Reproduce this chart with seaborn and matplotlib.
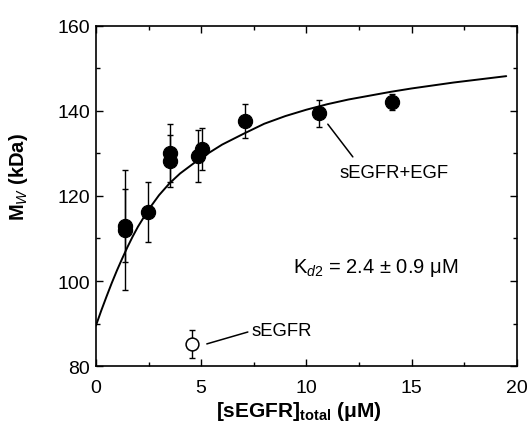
import numpy as np
import pandas as pd
import matplotlib
matplotlib.use("Agg")
import matplotlib.pyplot as plt
from matplotlib.ticker import MultipleLocator
import seaborn as sns

# Data
egf_conc = [1.38, 1.40, 2.47, 3.52, 3.52, 4.85, 5.04, 7.08, 10.6, 14.06]
egf_mw = [112.0, 113.0, 116.2, 130.1, 128.2, 129.4, 131.1, 137.6, 139.5, 142.1]
egf_err = [14.0, 8.6, 7.1, 6.8, 6.2, 6.2, 5.0, 4.0, 3.2, 1.8]

free_conc = [4.56]
free_mw = [85.2]
free_err = [3.2]

fit_conc = [0, 0.25, 0.5, 0.75, 1.0, 1.25, 1.5, 1.75, 2.0, 2.5, 3.0, 3.5, 4.0, 5.0,
            6.0, 7.0, 8.0, 9.0, 10.0, 11.0, 12.0, 13.0, 14.0, 15.0, 16.0, 17.0,
            18.0, 19.0, 19.5]
fit_mw = [89.5, 93.0, 96.3, 99.5, 102.5, 105.3, 108.0, 110.5, 112.8, 116.8, 120.2,
          123.0, 125.3, 129.0, 132.1, 134.6, 137.0, 138.8, 140.3, 141.6, 142.7,
          143.6, 144.5, 145.3, 146.0, 146.7, 147.3, 147.9, 148.2]

egf_df = pd.DataFrame({"conc": egf_conc, "mw": egf_mw})
free_df = pd.DataFrame({"conc": free_conc, "mw": free_mw})
fit_df = pd.DataFrame({"conc": fit_conc, "mw": fit_mw})

sns.set_style("ticks")
plt.rcParams["font.family"] = ["Liberation Sans", "DejaVu Sans"]
plt.rcParams["mathtext.fontset"] = "custom"
plt.rcParams["mathtext.rm"] = "Liberation Sans"
plt.rcParams["mathtext.it"] = "Liberation Sans:italic"
plt.rcParams["mathtext.bf"] = "Liberation Sans:bold"
for key in ["text.color", "axes.labelcolor", "xtick.color", "ytick.color"]:
    plt.rcParams[key] = "black"

fig = plt.figure(figsize=(5.3, 4.27), dpi=100)
ax = fig.add_axes([0.181, 0.1405, 0.794, 0.7963])

# fitted curve
sns.lineplot(data=fit_df, x="conc", y="mw", color="black", lw=1.4, ax=ax)

# error bars
ax.errorbar(egf_conc, egf_mw, yerr=egf_err, fmt="none", ecolor="black",
            elinewidth=1.0, capsize=2.2, capthick=1.0, zorder=3)
ax.errorbar(free_conc, free_mw, yerr=free_err, fmt="none", ecolor="black",
            elinewidth=1.0, capsize=2.2, capthick=1.0, zorder=3)

# points
sns.scatterplot(data=egf_df, x="conc", y="mw", color="black", s=105,
                edgecolor="black", linewidth=0.8, zorder=4, ax=ax)
sns.scatterplot(data=free_df, x="conc", y="mw", color="white", s=85,
                edgecolor="black", linewidth=1.1, zorder=4, ax=ax)

# annotations
ax.plot([11.02, 12.21], [136.9, 129.2], color="black", lw=1.1)
ax.text(11.59, 125.6, "sEGFR+EGF", ha="left", va="center", fontsize=13.3)
ax.plot([5.27, 7.22], [85.2, 88.0], color="black", lw=1.1)
ax.text(7.41, 88.4, "sEGFR", ha="left", va="center", fontsize=13.3)
ax.text(9.36, 103.3, r"K$_{\mathit{d}2}$ = 2.4 ± 0.9 μM", ha="left", va="center",
        fontsize=14.5)

ax.set_xlim(0, 20)
ax.set_ylim(80, 160)
ax.xaxis.set_major_locator(MultipleLocator(5))
ax.xaxis.set_minor_locator(MultipleLocator(2.5))
ax.yaxis.set_major_locator(MultipleLocator(20))
ax.yaxis.set_minor_locator(MultipleLocator(10))
ax.tick_params(which="both", direction="in", top=True, right=True, width=1.0,
               labelsize=14, colors="black")
ax.tick_params(which="major", length=5)
ax.tick_params(which="minor", length=3)
ax.tick_params(axis="x", pad=9)
ax.tick_params(axis="y", pad=4)
for sp in ax.spines.values():
    sp.set_linewidth(1.2)
    sp.set_color("black")

ax.set_xlabel(r"[sEGFR]$_{\mathbf{total}}$ (μM)", fontsize=15, fontweight="bold")
ax.set_ylabel(r"M$_{W}$ (kDa)", fontsize=14.5, fontweight="bold")
ax.xaxis.set_label_coords(0.482, -0.097)
ax.yaxis.set_label_coords(-0.157, 0.559)

fig.savefig("out.png", dpi=100)
